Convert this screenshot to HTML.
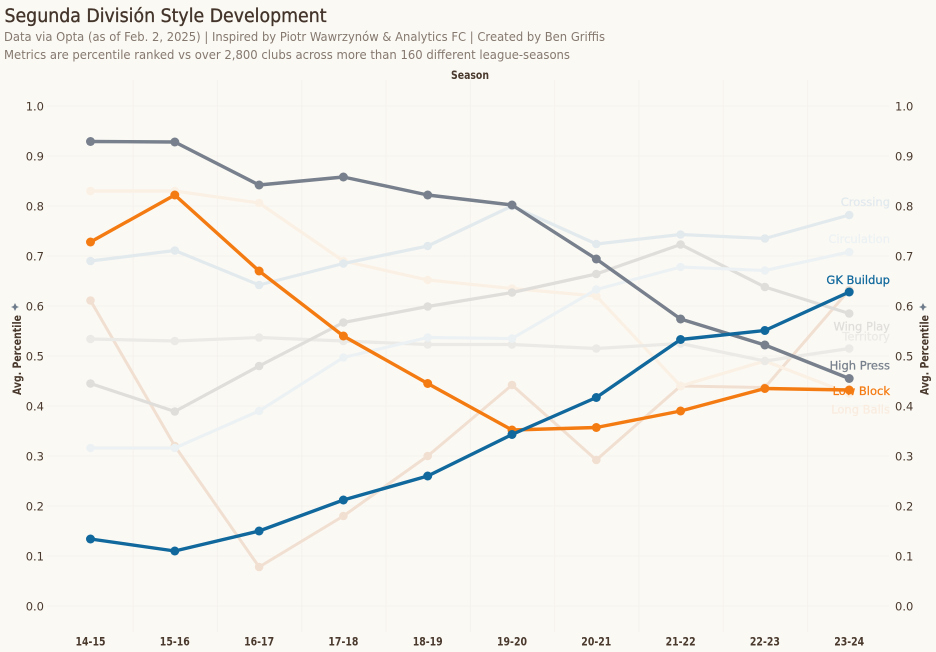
<!DOCTYPE html>
<html lang="en">
<head>
<meta charset="utf-8">
<title>Segunda División Style Development</title>
<style>
html,body{margin:0;padding:0;background:#fbf9f4;}
svg{display:block;font-family:"DejaVu Sans","Liberation Sans",sans-serif;}
</style>
</head>
<body>
<svg id="chart" xmlns="http://www.w3.org/2000/svg" width="936" height="652" viewBox="0 0 936 652">
  <rect width="936" height="652" fill="#fbf9f4"/>
  <text x="4.5" y="22" font-size="18.5" fill="#43342a" stroke="#43342a" stroke-width="0.35" textLength="322" lengthAdjust="spacingAndGlyphs">Segunda División Style Development</text>
  <text x="4" y="41" font-size="12.5" fill="#85796f" textLength="601" lengthAdjust="spacingAndGlyphs">Data via Opta (as of Feb. 2, 2025) | Inspired by Piotr Wawrzynów &amp; Analytics FC | Created by Ben Griffis</text>
  <text x="4" y="59" font-size="12.5" fill="#85796f" textLength="566" lengthAdjust="spacingAndGlyphs">Metrics are percentile ranked vs over 2,800 clubs across more than 160 different league-seasons</text>
  <text x="470" y="79" font-size="11.5" font-weight="bold" fill="#4a3a2e" text-anchor="middle" textLength="38" lengthAdjust="spacingAndGlyphs">Season</text>
  <g id="grid"></g>
  <g id="ticks"></g>
  <text transform="translate(21,395) rotate(-90)" font-size="11.5" font-weight="bold" fill="#4a3a2e" textLength="80" lengthAdjust="spacingAndGlyphs">Avg. Percentile</text>
  <text transform="translate(928.5,395) rotate(-90)" font-size="11.5" font-weight="bold" fill="#4a3a2e" textLength="80" lengthAdjust="spacingAndGlyphs">Avg. Percentile</text>
  <polygon points="15,303 16.5,306 19,307 16.5,308 15,311 13.5,308 11,307 13.5,306" fill="#6f7c8c"/>
  <polygon points="923,303 924.5,306 927,307 924.5,308 923,311 921.5,308 919,307 921.5,306" fill="#6f7c8c"/>
  <g id="lines-muted"></g>
  <g id="labels"></g>
  <g id="lines-focus"></g>
</svg>
<script>
const seasons = ['14-15','15-16','16-17','17-18','18-19','19-20','20-21','21-22','22-23','23-24'];
const yTicks = [0,0.1,0.2,0.3,0.4,0.5,0.6,0.7,0.8,0.9,1.0];
const crossing = [0.690,0.711,0.642,0.685,0.720,0.800,0.724,0.743,0.735,0.782];
const circulation = [0.316,0.316,0.390,0.497,0.537,0.535,0.633,0.678,0.671,0.708];
const wingPlay = [0.445,0.389,0.480,0.567,0.599,0.627,0.664,0.723,0.638,0.585];
const territory = [0.534,0.530,0.537,0.530,0.523,0.523,0.515,0.525,0.490,0.515];
const longBalls = [0.830,0.830,0.806,0.690,0.652,0.635,0.620,0.440,0.490,0.425];
const counterPress = [0.611,0.320,0.078,0.180,0.300,0.442,0.292,0.440,0.437,0.632];
const gkBuildup = [0.134,0.110,0.150,0.212,0.260,0.343,0.417,0.533,0.551,0.628];
const highPress = [0.929,0.928,0.842,0.858,0.822,0.802,0.694,0.574,0.522,0.455];
const lowBlock = [0.728,0.822,0.670,0.540,0.445,0.352,0.357,0.390,0.435,0.432];

const NS = 'http://www.w3.org/2000/svg';
const xScale = i => 90.5 + i * 84.3;
const yScale = v => 606 - v * 500;
const seriesStyles = [
  {values: counterPress, name: '', color: '#f1e0d1', group: 'muted', key: 'counter-press', w: 3, r: 4.3},
  {values: longBalls, name: 'Long Balls', color: '#fbf0e4', labelColor: '#f9ecdf', group: 'muted', key: 'long-balls', dy: 20, w: 3.2, r: 4.3},
  {values: territory, name: 'Territory', color: '#ebeae6', group: 'muted', key: 'territory', dy: -8, w: 3.2, r: 4.3},
  {values: wingPlay, name: 'Wing Play', color: '#e0dedb', group: 'muted', key: 'wing-play', dy: 17, w: 3.2, r: 4.3},
  {values: circulation, name: 'Circulation', color: '#ecf2f4', group: 'muted', key: 'circulation', dy: -9, w: 3.2, r: 4.3},
  {values: crossing, name: 'Crossing', color: '#e2eaee', group: 'muted', key: 'crossing', dy: -9, w: 3.2, r: 4.3},
  {values: highPress, name: 'High Press', color: '#77808c', group: 'focus', key: 'high-press', dy: -9, w: 3.4, r: 4.5},
  {values: lowBlock, name: 'Low Block', color: '#f47b12', group: 'focus', key: 'low-block', dy: 5, w: 3.4, r: 4.5},
  {values: gkBuildup, name: 'GK Buildup', color: '#10689c', group: 'focus', key: 'gk-buildup', dy: -8, w: 3.4, r: 4.5}
];
function make(tag, attrs, parent){
  const el = document.createElementNS(NS, tag);
  Object.keys(attrs).forEach(k => el.setAttribute(k, attrs[k]));
  parent.appendChild(el);
  return el;
}
const grid = document.getElementById('grid');
const ticks = document.getElementById('ticks');
yTicks.forEach(t => {
  const y = yScale(t);
  const line = make('line', {x1: 47, x2: 889, y1: y, y2: y, stroke: '#f5f2ed', 'stroke-width': 1}, grid);
  
  
  const left = make('text', {x: 44, y: y + 4.5, 'font-size': 11.5, fill: '#4a3a2e', 'text-anchor': 'end'}, ticks);
  left.textContent = t.toFixed(1);
  
  
  const right = make('text', {x: 895, y: y + 4.5, 'font-size': 11.5, fill: '#4a3a2e'}, ticks);
  right.textContent = t.toFixed(1);
  
  
});
seasons.forEach((s, i) => {
  const x = xScale(i);
  if (i < seasons.length - 1) {
    const mid = (xScale(i) + xScale(i + 1)) / 2 + 0.5;
    const line = make('line', {x1: mid, x2: mid, y1: 80, y2: 632, stroke: '#f5f2ed', 'stroke-width': 1}, grid);
    
    
  }
  const label = make('text', {x: x, y: 645.5, 'font-size': 11.5, 'font-weight': 'bold', fill: '#4a3a2e', 'text-anchor': 'middle', textLength: 30, lengthAdjust: 'spacingAndGlyphs'}, ticks);
  label.textContent = s;
  
  
});
const labelsGroup = document.getElementById('labels');
seriesStyles.forEach(s => {
  const parent = document.getElementById(s.group === 'muted' ? 'lines-muted' : 'lines-focus');
  const g = make('g', {}, parent);
  
  
  const pts = s.values.map((v, i) => xScale(i) + ',' + yScale(v)).join(' ');
  const line = make('polyline', {points: pts, fill: 'none', stroke: s.color, 'stroke-width': s.w, 'stroke-linejoin': 'round'}, g);
  
  
  s.values.forEach((v, i) => {
    const c = make('circle', {cx: xScale(i), cy: yScale(v), r: s.r, fill: s.color}, g);
    
    
  });
  if (s.name) {
    const lastValue = s.values[s.values.length - 1];
    const labelColor = s.labelColor || s.color;
    const t = make('text', {x: 890, y: yScale(lastValue) + s.dy, 'font-size': 11.5, fill: labelColor, stroke: labelColor, 'stroke-width': 0.25, 'text-anchor': 'end'}, labelsGroup);
    t.textContent = s.name;
    
    
  }
});
</script>
</body>
</html>
